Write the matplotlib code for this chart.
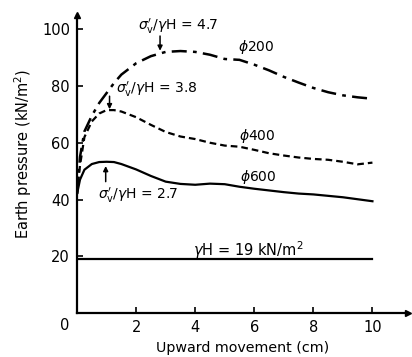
import numpy as np
import matplotlib
matplotlib.use('Agg')
import matplotlib.pyplot as plt

plt.rcParams['font.family'] = ['DejaVu Sans']
plt.rcParams['mathtext.fontset'] = 'dejavusans'

# upward movement (cm)
x = [0, 0.1, 0.25, 0.5, 0.75, 1.0, 1.25, 1.5, 2.0, 2.5, 3.0, 3.5, 4.0,
     4.5, 5.0, 5.5, 6.0, 6.5, 7.0, 7.5, 8.0, 8.5, 9.0, 9.5, 10.0]

# earth pressure (kN/m2) for each pipe diameter
p200 = [42, 55, 64, 69.5, 74, 77.5, 81, 84, 88, 90.5, 92, 92.3, 92,
        91, 89.5, 89.2, 87.5, 85.5, 83.2, 81.2, 79.3, 77.8, 76.7, 76, 75.5]
p400 = [42, 52, 62, 67.5, 70.3, 71.5, 71.5, 71, 69, 66.3, 63.8, 62.2, 61.3,
        60, 59, 58.6, 57.5, 56.3, 55.5, 54.8, 54.3, 54, 53.3, 52.4, 53]
p600 = [42, 47, 50.5, 52.5, 53.2, 53.3, 53.2, 52.5, 50.6, 48.3, 46.3, 45.5, 45.2,
        45.6, 45.4, 44.5, 43.8, 43.2, 42.6, 42.1, 41.8, 41.3, 40.8, 40.1, 39.4]
gamma_h = 19

fig = plt.figure(figsize=(4.12, 3.57), dpi=100)
ax = fig.add_axes([0.187, 0.123, 0.803, 0.835])

ax.plot(x, p200, color='black', lw=1.8, linestyle=(0, (6, 2.5, 1.5, 2.5)))
ax.plot(x, p400, color='black', lw=1.6, linestyle=(0, (3, 1.8)))
ax.plot(x, p600, color='black', lw=1.6)
ax.plot([0, 10], [gamma_h, gamma_h], color='black', lw=1.6)

ax.set_xlim(0, 11.2)
ax.set_ylim(0, 105)
ax.spines['top'].set_visible(False)
ax.spines['right'].set_visible(False)
ax.spines['left'].set_linewidth(1.6)
ax.spines['bottom'].set_linewidth(1.6)
# arrow heads on the axes
ax.plot(1, 0, '>k', ms=5, transform=ax.get_yaxis_transform(), clip_on=False)
ax.plot(0, 1, '^k', ms=5, transform=ax.get_xaxis_transform(), clip_on=False)

ax.set_xticks([2, 4, 6, 8, 10])
ax.set_yticks([20, 40, 60, 80, 100])
ax.tick_params(direction='in', length=4, width=1.2, labelsize=10.5, pad=5)
ax.text(-0.038, -0.04, '0', transform=ax.transAxes, ha='center', va='center', fontsize=10.5)

ax.set_xlabel('Upward movement (cm)', fontsize=10.3, labelpad=4)
ax.set_ylabel('Earth pressure (kN/m$^2$)', fontsize=10.5)
ax.yaxis.set_label_coords(-0.13, 0.535)

# annotations with short vertical arrows
arrow = dict(arrowstyle='-|>', color='black', lw=1.1, shrinkA=0, shrinkB=0, mutation_scale=7)
ax.text(3.43, 101, r"$\sigma_{\mathrm{v}}'/\gamma$H = 4.7", ha='center', va='center', fontsize=10)
ax.annotate('', xy=(2.81, 92.4), xytext=(2.81, 97.6), arrowprops=arrow)
ax.text(2.71, 78.8, r"$\sigma_{\mathrm{v}}'/\gamma$H = 3.8", ha='center', va='center', fontsize=10)
ax.annotate('', xy=(1.1, 71.8), xytext=(1.1, 76.4), arrowprops=arrow)
ax.text(2.07, 41.3, r"$\sigma_{\mathrm{v}}'/\gamma$H = 2.7", ha='center', va='center', fontsize=10)
ax.annotate('', xy=(0.97, 51.8), xytext=(0.97, 46.3), arrowprops=arrow)

ax.text(6.07, 93.6, r'$\phi$200', ha='center', va='center', fontsize=10)
ax.text(6.1, 62.5, r'$\phi$400', ha='center', va='center', fontsize=10)
ax.text(6.14, 48, r'$\phi$600', ha='center', va='center', fontsize=10)
ax.text(5.8, 22.3, r'$\gamma$H = 19 kN/m$^2$', ha='center', va='center', fontsize=10.5)

fig.savefig('out.png', dpi=100)
